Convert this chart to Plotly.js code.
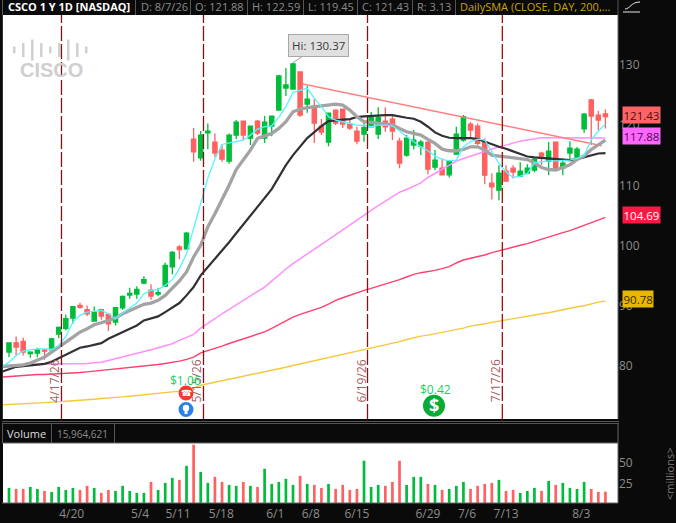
<!DOCTYPE html>
<html>
<head>
<meta charset="utf-8">
<script src="https://cdn.plot.ly/plotly-3.0.1.min.js"></script>
<style>html,body{margin:0;padding:0;background:#0a0a0a;overflow:hidden}#chart{width:676px;height:523px}</style>
</head>
<body>
<div id="chart"></div>
<script>
const openP = [82.31,83.86,84.08,82.08,82.14,82.69,82.69,85.30,86.24,87.96,90.07,89.35,87.46,89.35,88.57,87.30,89.68,91.79,91.96,93.79,92.62,91.96,93.29,96.45,99.78,99.44,117.69,114.58,118.74,117.19,115.85,114.02,118.35,120.68,117.85,120.68,117.85,119.85,122.51,126.17,126.00,128.83,123.51,123.18,119.85,117.19,122.51,122.68,120.18,119.02,118.52,119.74,118.52,120.68,121.01,117.35,115.02,116.69,116.52,117.19,113.03,112.86,111.75,115.19,117.52,120.18,119.85,117.24,110.37,109.20,112.36,112.86,111.53,112.03,112.53,115.36,114.03,117.19,112.86,115.36,114.69,119.41,124.18,121.68,121.88];
const highP = [83.90,84.91,84.69,82.47,83.03,82.75,84.69,86.58,88.57,89.90,90.51,90.07,89.90,89.52,88.80,89.68,91.73,93.01,93.23,94.90,93.57,93.01,97.17,99.11,100.05,102.27,119.52,119.02,120.29,118.63,116.69,118.63,120.85,120.74,119.85,120.85,121.51,121.51,128.33,129.50,130.37,128.83,126.50,124.34,121.01,122.01,122.51,122.68,120.85,119.74,120.57,122.18,122.96,122.96,121.51,117.91,118.35,119.18,117.52,117.35,115.86,114.47,114.03,119.74,121.68,120.52,120.29,117.80,111.97,113.36,113.36,113.36,113.86,113.53,114.36,115.58,117.19,117.35,114.47,117.35,116.36,122.01,124.34,122.35,122.59];
const lowP = [81.47,81.75,81.75,81.36,81.47,81.03,82.47,84.64,85.91,87.02,89.52,88.30,87.41,87.69,85.80,86.74,89.35,91.18,91.18,93.57,91.01,91.57,93.12,95.23,97.72,99.33,113.91,114.08,116.02,114.69,113.91,113.58,117.69,117.52,116.69,118.35,117.02,118.18,122.51,124.84,126.00,121.40,122.07,117.02,118.35,116.52,120.01,119.52,119.18,116.85,117.24,119.63,117.69,118.91,117.52,112.86,114.75,115.97,115.02,111.86,112.53,111.70,111.31,115.19,117.24,117.69,116.69,110.20,107.65,107.54,110.70,111.14,111.42,111.86,112.20,113.36,111.70,112.53,111.70,114.03,114.47,118.74,116.69,119.18,119.45];
const closeP = [83.86,83.14,82.31,82.31,82.69,82.47,84.52,86.41,87.85,89.85,89.74,88.68,88.96,88.30,87.02,89.68,91.57,92.07,92.73,94.34,91.62,92.18,96.73,98.89,99.33,102.05,115.58,118.35,119.02,115.36,114.36,118.35,120.51,118.35,119.85,118.68,120.51,121.51,128.17,126.67,130.16,121.68,124.34,120.35,118.85,122.01,120.35,120.18,119.52,117.35,119.63,121.51,121.29,119.74,119.02,113.69,117.85,117.52,117.19,112.70,114.19,111.75,114.03,118.52,121.40,119.18,116.97,111.70,109.76,112.03,110.70,112.20,112.36,112.86,114.36,114.86,115.69,112.81,113.69,116.19,116.02,121.85,121.51,120.85,121.43];
const volumeM = [20.3,19.1,19.1,21.5,19.1,16.8,15.6,21.5,18,20.3,18,22.7,20.3,14.5,18,16.8,22.7,16.8,14.5,14.5,27.3,18,26.2,32,29.7,46.1,70.7,39,26.2,33.2,27.3,23.8,22.7,27.3,22.7,21.5,42.6,25,27.3,30.9,23.8,34.4,25,23.8,20.3,25,19.1,23.8,18,19.1,52,21.5,23.8,22.7,27.3,52,23.8,33.2,33.2,25,23.8,18,19.1,22.7,27.3,19.1,22.7,25,26.2,29.7,16.8,18,14.5,16.8,20.3,16.8,28.5,23.8,26.2,20.3,19.1,27.3,19.1,15.6,15.96];
// moving averages: first value is read at the left edge of the plot, one bar before the first candle
const cyanMA = [79.90,80.64,81.75,82.47,82.69,82.86,82.86,82.75,83.41,84.91,87.30,88.41,88.96,89.13,89.24,88.68,87.85,88.80,89.68,90.46,92.01,92.57,92.68,93.40,94.34,96.17,98.67,102.80,107.00,111.20,114.40,116.80,117.07,117.35,117.52,118.35,119.35,119.74,119.90,121.29,123.07,125.45,125.73,126.12,124.45,123.07,121.40,120.85,120.57,120.29,120.01,119.95,119.74,120.02,120.02,119.85,119.07,118.08,117.24,116.41,115.75,114.86,114.30,114.08,114.19,116.41,117.24,117.69,117.52,115.58,113.64,112.25,111.31,111.53,111.97,113.75,113.92,114.08,114.08,114.08,114.19,114.47,115.02,117.52,119.07,120.18];
const greyMA = [79.90,79.98,80.09,80.20,80.48,80.92,81.47,82.31,83.14,84.08,84.91,85.63,86.19,86.85,87.19,87.57,87.96,88.68,89.24,89.79,90.24,90.46,90.90,91.73,93.01,94.12,95.62,98.11,100.05,103.10,105.30,107.54,110.03,112.64,114.19,115.85,117.80,118.18,118.63,119.46,120.57,122.23,122.68,122.90,123.07,123.18,123.45,123.51,123.34,122.51,121.40,120.60,120.46,120.29,120.18,120.07,119.46,118.91,118.63,118.35,117.63,116.97,116.02,115.75,115.75,115.97,116.41,116.41,115.86,115.02,114.86,114.69,114.58,114.41,114.30,113.75,112.97,112.64,112.53,112.97,113.42,114.30,114.91,115.97,116.69,117.52];
const blackMA = [79.05,79.48,79.87,79.98,80.09,80.20,80.36,80.70,81.25,81.86,82.47,83.03,83.25,83.47,83.80,84.52,85.08,85.63,86.08,86.74,87.57,87.85,88.24,88.96,89.68,90.46,91.73,93.12,95.06,96.45,97.84,99.05,100.55,102.05,103.55,105.04,106.54,108.04,109.37,111.37,113.36,115.03,116.50,117.85,118.85,119.85,120.68,120.85,120.93,121.01,121.35,121.46,121.57,121.62,121.68,121.68,121.40,121.24,121.07,120.57,119.74,118.80,118.24,117.91,117.85,117.85,117.85,117.69,117.24,116.80,116.41,116.08,115.63,115.14,114.80,114.64,114.53,114.41,114.30,114.19,114.19,114.36,114.69,115.02,115.30,115.36];
const pinkMA = [79.80,79.92,80.14,80.25,80.31,80.31,80.31,80.31,80.31,80.36,80.36,80.36,80.42,80.53,80.64,80.92,81.20,81.47,81.75,82.03,82.36,82.69,83.03,83.30,83.69,84.25,84.69,85.25,86.29,87.01,87.85,88.68,89.40,90.18,90.90,91.56,92.28,93.12,94.11,95.17,96.11,97.00,97.83,98.66,99.38,100.22,100.99,101.82,102.66,103.43,104.21,105.04,105.87,106.65,107.37,108.20,108.87,109.31,109.87,110.42,111.31,111.97,112.64,113.36,114.03,114.47,114.86,115.30,115.69,116.13,116.41,116.69,117.08,117.35,117.52,117.74,117.91,117.91,117.91,117.91,117.88,117.88,117.88,117.90,117.90,117.88];
const redMA = [78.15,78.26,78.37,78.48,78.53,78.59,78.59,78.65,78.65,78.70,78.81,78.92,79.03,79.14,79.26,79.37,79.53,79.70,79.81,79.92,80.03,80.14,80.25,80.42,80.59,80.81,81.09,81.47,82.19,82.52,82.97,83.30,83.74,84.13,84.46,84.85,85.30,85.68,86.24,86.85,87.57,88.12,88.57,88.96,89.23,89.73,90.29,90.90,91.34,91.78,92.17,92.56,92.89,93.23,93.61,93.95,94.34,94.78,95.22,95.50,95.67,95.89,96.17,96.50,97.11,97.61,97.89,98.16,98.44,98.83,99.16,99.49,99.77,100.05,100.33,100.71,101.10,101.49,101.82,102.16,102.49,102.93,103.27,103.82,104.26,104.69];
const yellowMA = [73.55,73.60,73.65,73.71,73.76,73.82,73.88,73.93,74.04,74.15,74.21,74.26,74.37,74.49,74.60,74.65,74.76,74.87,74.99,75.10,75.21,75.32,75.43,75.54,75.71,75.82,76.04,76.32,76.80,77.05,77.30,77.55,77.80,78.05,78.30,78.50,78.72,78.95,79.22,79.50,79.80,80.08,80.35,80.62,80.87,81.14,81.42,81.66,81.92,82.18,82.42,82.68,82.95,83.20,83.50,83.80,84.05,84.41,84.74,84.96,85.13,85.35,85.57,85.74,85.96,86.29,86.63,86.79,87.01,87.24,87.46,87.62,87.90,88.07,88.23,88.51,88.68,88.85,89.12,89.40,89.68,89.84,90.01,90.34,90.62,90.78];
const trendBars = [41.4,83.5];
const trendPrice = [126.85,116.59];
const monthBars = [8.83,18.45,23.8,29.9,37.5,42.5,49,59,64.5,70,80.6];
const monthLabels = ['4/20','5/4','5/11','5/18','6/1','6/8','6/15','6/29','7/6','7/13','8/3'];
const expiryBars = [7.39,27.39,50.49,69.48];
const expiryLabels = ['4/17/26','5/15/26','6/19/26','7/17/26'];
const priceTicks = [80,90,100,110,120,130];
const volumeTicks = [25,50];
const priceTags = [121.43,117.88,104.69,90.78];
const tagColors = ['#ff6464','#ff66ff','#ff1744','#e8b800'];
const tagText = ['#4a1010','#4a1050','#ffffff','#3a2c00'];
const dividends = [{bar:24.8,amount:'$1.06'},{bar:60.1,amount:'$0.42'}];

const bars = closeP.map((_, i) => i);
const maBars = cyanMA.map((_, i) => i - 1);
const GREEN = '#00bc3a', RED = '#ff6060';
const F = '"Open Sans", "Noto Sans", sans-serif';
const X = x => x / 676, Y = y => 1 - y / 523;
const xRange = [-0.845, 85.77];

const candleSide = c => ({line:{color:c,width:1.3},fillcolor:c});
const traces = [
  {type:'candlestick',x:bars,open:openP,high:highP,low:lowP,close:closeP,xaxis:'x',yaxis:'y',whiskerwidth:0,
   increasing:candleSide(GREEN),decreasing:candleSide(RED),hoverinfo:'skip'},
  {type:'bar',x:bars,y:volumeM,xaxis:'x2',yaxis:'y2',width:0.38,
   marker:{color:closeP.map((c,i)=>c>=openP[i]?GREEN:RED),line:{width:0}},hoverinfo:'skip'}
];
const line = (y,color,width) => ({type:'scatter',mode:'lines',x:maBars,y,xaxis:'x',yaxis:'y',line:{color,width,shape:'linear'},hoverinfo:'skip'});
traces.push(line(yellowMA,'#f5c93e',1.4));
traces.push(line(redMA,'#ff3f6e',1.4));
traces.push(line(pinkMA,'#ff8ffb',1.5));
traces.push({type:'scatter',mode:'lines',x:trendBars,y:trendPrice,line:{color:'#ff8080',width:1.4},hoverinfo:'skip'});
traces.push(line(blackMA,'#303036',2.2));
traces.push(line(greyMA,'#a3a3a3',3.3));
traces.push(line(cyanMA,'#55f3ff',1.3));

const rect = (x0,y0,x1,y1,fill,lineColor) => ({type:'rect',xref:'paper',yref:'paper',x0:X(x0),x1:X(x1),y0:Y(y0),y1:Y(y1),fillcolor:fill,line:{width:lineColor?1:0,color:lineColor||fill},layer:'above'});
const circle = (cx,cy,r,fill) => ({type:'circle',xref:'paper',yref:'paper',x0:X(cx-r),x1:X(cx+r),y0:Y(cy-r),y1:Y(cy+r),fillcolor:fill,line:{width:0},layer:'above'});
const vline = (x,y0,y1,c) => ({type:'line',xref:'paper',yref:'paper',x0:X(x),x1:X(x),y0:Y(y0),y1:Y(y1),line:{color:c||'#555',width:1},layer:'above'});
const hline = (x0,x1,y,c) => ({type:'line',xref:'paper',yref:'paper',x0:X(x0),x1:X(x1),y0:Y(y),y1:Y(y),line:{color:c||'#555',width:1},layer:'above'});

const shapes = [];
// logo
[[14.3,7],[23.3,14],[32.3,21],[41.3,14],[50.3,7],[59.3,14],[68.3,21],[77.3,14],[86.3,7]].forEach(([x,h])=>{
  shapes.push(rect(x-1.2,49-h/2+1,x+1.2,49+h/2+1,'#cfcfcf'));
});
expiryBars.forEach((b,i)=>{
  shapes.push({type:'line',xref:'x',yref:'y',x0:b,x1:b,y0:71.2,y1:138.3,line:{color:i===3?'#a80c0c':'#7f1414',width:1.3,dash:'15px,3px'},layer:'above'});
});
// header separators
[135.5,190.5,247.5,303.5,357.5,412.5,455.5,618].forEach(x=>shapes.push(vline(x,0,15)));
shapes.push(vline(2.5,0,15));
// main frame
shapes.push(vline(618,15,419,'#666'));
shapes.push(vline(2.5,15,419,'#333'));
// separator band
shapes.push(rect(0,419,618,424,'#0a0a0a'));
shapes.push(hline(2,619,421.5,'#555'));
shapes.push(hline(2,619,423.5,'#555'));
// volume header
shapes.push(vline(2.5,424,443)); shapes.push(vline(51.5,424,443)); shapes.push(vline(114.5,424,443)); shapes.push(vline(618,424,503,'#666'));
shapes.push(hline(2,618,443,'#666'));
shapes.push(hline(2,618,503,'#666'));
// chart-style icon
shapes.push(hline(623,640,12,'#e8e8e8'));
shapes.push({type:'path',xref:'paper',yref:'paper',path:`M ${X(625)} ${Y(9)} C ${X(630)} ${Y(9)}, ${X(631)} ${Y(2)}, ${X(640)} ${Y(2)}`,line:{color:'#e8e8e8',width:1},layer:'above'});
// event icons
shapes.push(circle(186,393,7.5,'#ee3b32'));
shapes.push(circle(186,409.5,7.5,'#2a82e8'));
shapes.push(circle(186,408,3.2,'#ffffff'));
shapes.push(rect(184.5,410.5,187.5,414,'#ffffff'));
shapes.push(circle(434,405.7,11,'#0aab35'));

const ann = [];
const T = (x,y,text,color,size,opts) => ann.push(Object.assign({xref:'paper',yref:'paper',x:X(x),y:Y(y),text,showarrow:false,xanchor:'left',yanchor:'middle',font:{family:F,color,size},borderpad:0},opts||{}));
T(7,6,'<b>CSCO 1 Y 1D [NASDAQ]</b>','#ffffff',11);
T(139.5,6,'D: 8/7/26','#8c8c8c',11);
T(194,6,'O: 121.88','#8c8c8c',11);
T(251,6,'H: 122.59','#8c8c8c',11);
T(307,6,'L: 119.45','#8c8c8c',11);
T(361,6,'C: 121.43','#8c8c8c',11);
T(416,6,'R: 3.13','#8c8c8c',11);
T(459,6,'DailySMA (CLOSE, DAY, 200,...','#c9a400',11);
T(6,433.5,'Volume','#dddddd',11);
T(55.5,433.5,'15,964,621','#8c8c8c',10);
T(51,69.5,'<b>CISCO</b>','#cfcfcf',20,{xanchor:'center',font:{family:'"Liberation Sans", sans-serif',color:'#cfcfcf',size:20}});
T(669,474,'&lt;millions&gt;','#7c7c7c',11,{xanchor:'center',textangle:-90});
// rotated date labels
expiryBars.forEach((b,i)=>{
  ann.push({xref:'x',yref:'paper',x:b,y:Y(381),text:expiryLabels[i],showarrow:false,textangle:-90,xanchor:'center',yanchor:'middle',xshift:-7,
    font:{family:F,color:'#a46060',size:12}});
});
// dividends
dividends.forEach(d=>{
  ann.push({xref:'x',yref:'paper',x:d.bar,y:Y(d.amount==='$1.06'?380:389.5),text:d.amount,showarrow:false,xanchor:'center',yanchor:'middle',font:{family:F,color:'#16d162',size:12}});
});
T(186,393,'☎','#ffffff',9,{xanchor:'center',font:{family:'"DejaVu Sans"',color:'#ffffff',size:9}});
T(434,405.3,'<b>$</b>','#ffffff',18,{xanchor:'center'});
// high bubble
ann.push({xref:'x',yref:'y',x:40,y:130.37,text:'Hi: 130.37',showarrow:true,arrowhead:0,arrowwidth:1,arrowcolor:'#a0a0a0',ax:25,ay:-17,axref:'pixel',ayref:'pixel',
  bgcolor:'#e0e0e0',bordercolor:'#a8a8a8',borderwidth:1,borderpad:3,font:{family:F,color:'#3a3a3a',size:11.5}});
// price tags
priceTags.forEach((p,i)=>{
  ann.push({xref:'paper',yref:'y',x:X(622),y:p,yshift:2,text:p.toFixed(2),showarrow:false,xanchor:'left',yanchor:'middle',
    bgcolor:tagColors[i],borderpad:0.5,font:{family:F,color:tagText[i],size:11.5}});
});

const layout = {
  width:676,height:523,margin:{l:0,r:0,t:0,b:0},autosize:false,showlegend:false,
  paper_bgcolor:'#0a0a0a',plot_bgcolor:'#ffffff',boxgap:0.15,
  xaxis:{domain:[X(3),X(618)],range:xRange,anchor:'y',showgrid:false,zeroline:false,showticklabels:false,ticks:'',rangeslider:{visible:false},fixedrange:true},
  yaxis:{domain:[Y(419),Y(15)],range:[71.2,138.3],anchor:'x',side:'right',showgrid:false,zeroline:false,ticks:'',tickvals:priceTicks,ticktext:priceTicks.map(String),
    tickfont:{family:F,color:'#8c8c8c',size:12},fixedrange:true},
  xaxis2:{domain:[X(3),X(618)],range:xRange,anchor:'y2',showgrid:false,zeroline:false,ticks:'',tickmode:'array',tickvals:monthBars,ticktext:monthLabels,tickangle:0,ticklabelstandoff:2,
    tickfont:{family:F,color:'#8c8c8c',size:12},fixedrange:true},
  yaxis2:{domain:[Y(503),Y(443)],range:[2.7,72.7],anchor:'x2',side:'right',showgrid:false,zeroline:false,ticks:'',tickvals:volumeTicks,ticktext:volumeTicks.map(String),
    tickfont:{family:F,color:'#8c8c8c',size:12},fixedrange:true},
  shapes,annotations:ann
};
Plotly.newPlot('chart',traces,layout,{staticPlot:true,displayModeBar:false});
</script>
</body>
</html>
